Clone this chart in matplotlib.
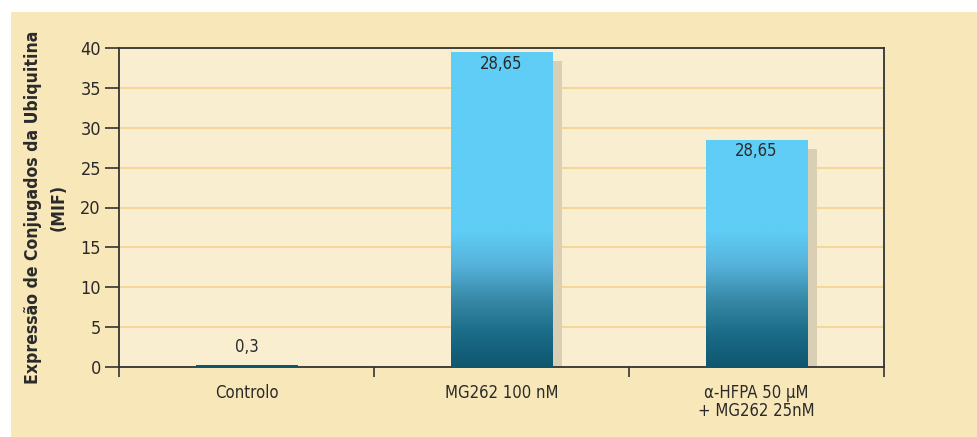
import numpy as np
import matplotlib
matplotlib.use("Agg")
import matplotlib.pyplot as plt
from matplotlib.colors import LinearSegmentedColormap
from matplotlib.patches import Rectangle
from matplotlib.transforms import offset_copy

# data
categories = ["Controlo", "MG262 100 nM", "\u03b1-HFPA 50 \u00b5M\n+ MG262 25nM"]
values = [0.3, 39.5, 28.5]
value_labels = ["0,3", "28,65", "28,65"]
y_ticks = [0, 5, 10, 15, 20, 25, 30, 35, 40]

plt.rcParams['font.family'] = ['DejaVu Sans']
plt.rcParams['font.stretch'] = 'condensed'

panel_color = "#f8e7b8"
plot_color = "#faeed1"
grid_color = "#f7d291"
text_color = "#2a2a2a"
shadow_color = "#d9cfb5"

fig = plt.figure(figsize=(9.78, 4.37), dpi=100)
fig.patch.set_facecolor("white")
fig.patches.append(Rectangle((11 / 978, 0), 1, 1 - 12 / 437, transform=fig.transFigure,
                             facecolor=panel_color, edgecolor="none", zorder=-10))

ax = fig.add_axes([119 / 978, 1 - 367 / 437, 765 / 978, 319 / 437])
ax.set_facecolor(plot_color)

x = np.arange(len(categories))
width = 0.4

# shadows offset 9 px right and down
shadow_tr = offset_copy(ax.transData, fig=fig, x=9, y=-9, units="dots")
ax.bar(x, values, width=width, color=shadow_color, transform=shadow_tr, zorder=2)

bars = ax.bar(x, values, width=width, color="none", zorder=3)

# gradient fill: dark teal at 0 up to light blue at ~17
cmap = LinearSegmentedColormap.from_list("bar", ["#0f576f", "#1b6c88", "#388aa8", "#56b2da", "#5fcdf5"])
grad_top = 17.0
ys = np.linspace(0, 40, 400)
grad = np.clip(ys / grad_top, 0, 1).reshape(-1, 1)
for b in bars:
    im = ax.imshow(grad, cmap=cmap, vmin=0, vmax=1, aspect="auto", origin="lower",
                   extent=[b.get_x(), b.get_x() + b.get_width(), 0, 40], zorder=3,
                   interpolation="bilinear")
    im.set_clip_path(b)

for xi, v, lab in zip(x, values, value_labels):
    if v > 5:
        ax.annotate(lab, (xi, v), xytext=(0, -2), textcoords="offset points",
                    ha="center", va="top", fontsize=12, color=text_color, zorder=5)
    else:
        ax.annotate(lab, (xi, v), xytext=(0, 6), textcoords="offset points",
                    ha="center", va="bottom", fontsize=12, color=text_color, zorder=5)

ax.set_xlim(-0.5, 2.5)
ax.set_ylim(0, 40)
ax.set_yticks(y_ticks)
ax.set_yticklabels([str(t) for t in y_ticks], fontsize=13, color=text_color)
ax.yaxis.grid(True, color=grid_color, linewidth=1.3, zorder=1)
ax.set_axisbelow(True)

ax.set_xticks([-0.5, 0.5, 1.5, 2.5])
ax.set_xticklabels([])
ax.set_xticks(x, minor=True)
ax.set_xticklabels(categories, minor=True, fontsize=12, color=text_color, linespacing=1.0)
ax.tick_params(axis="x", which="minor", length=0, pad=12)
ax.tick_params(axis="x", which="major", length=7, width=1.2, color="#333333")
ax.tick_params(axis="y", length=10, width=1.2, color="#333333", pad=3)

for s in ax.spines.values():
    s.set_color("#333333")
    s.set_linewidth(1.3)

ax.set_ylabel("Expressão de Conjugados da Ubiquitina\n(MIF)", fontsize=12.6, fontweight="bold",
              color=text_color, linespacing=1.55, labelpad=9)

fig.savefig("out.png", dpi=100, facecolor=fig.get_facecolor())
